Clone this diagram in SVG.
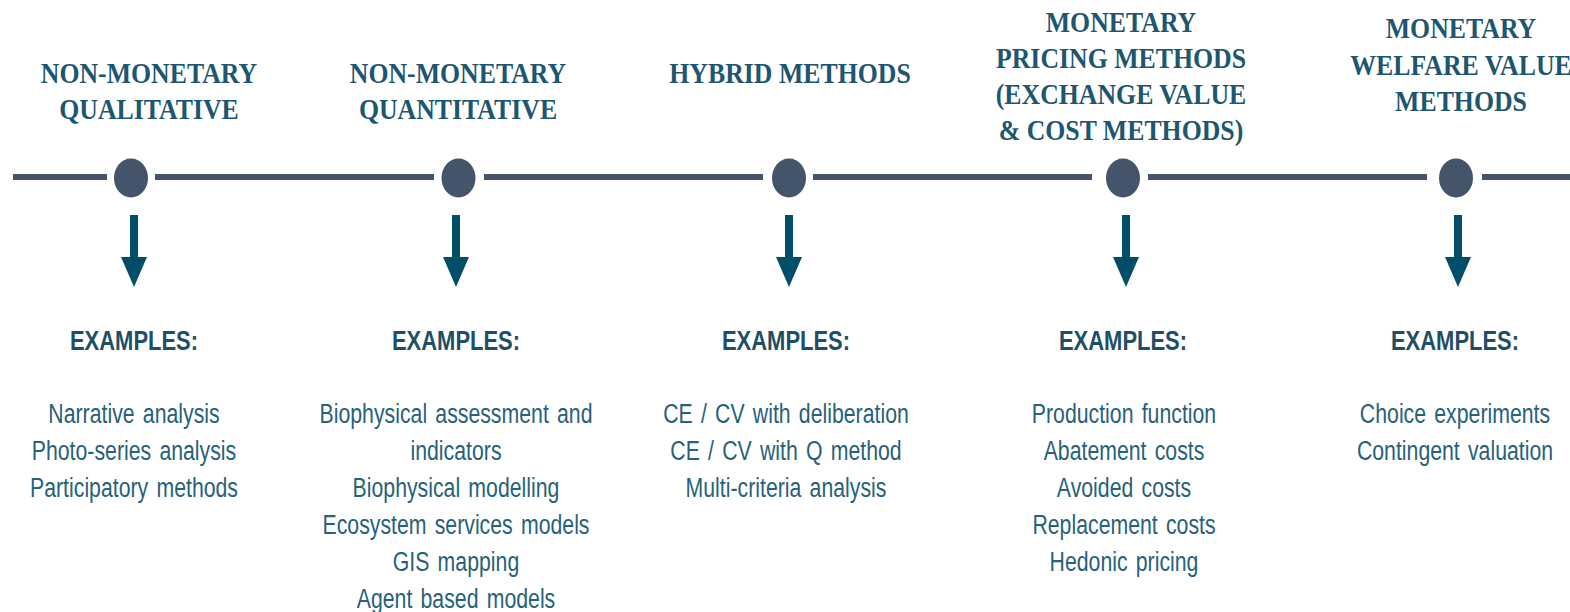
<svg xmlns="http://www.w3.org/2000/svg" width="1570" height="612" viewBox="0 0 1570 612">
<defs>
<style>
.hd{font-family:"Liberation Serif","Times New Roman",serif;font-weight:bold;font-size:30px;fill:#1D5670;text-anchor:middle}
.ex{font-family:"Liberation Sans",Arial,sans-serif;font-weight:bold;font-size:28px;fill:#1E4F66;text-anchor:middle}
.bd{font-family:"Liberation Sans",Arial,sans-serif;font-size:28px;fill:#27627A;text-anchor:middle;word-spacing:3px}
.tl{stroke:#44546A;stroke-width:6;fill:none}
.dot{fill:#44546A}
.arr{fill:#004E68}
</style>
<path id="arrowShape" d="M-4 0 H4 V42 H13 L0 72 L-13 42 H-4 Z"/>
</defs>
<rect width="1570" height="612" fill="#FFFFFF"/>
<g id="connectors">
<path class="tl" d="M13 177 H107 M155 177 H434 M484 177 H763 M813 177 H1092 M1148 177 H1427 M1482 177 H1570"/>
<use href="#arrowShape" class="arr" transform="translate(134 215)"/>
<use href="#arrowShape" class="arr" transform="translate(456 215)"/>
<use href="#arrowShape" class="arr" transform="translate(789 215)"/>
<use href="#arrowShape" class="arr" transform="translate(1126 215)"/>
<use href="#arrowShape" class="arr" transform="translate(1458 215)"/>
</g>
<g id="node-nonmonetary-qualitative">
<g transform="translate(149 0) scale(0.86 1)">
<text class="hd" x="0" y="83">NON-MONETARY</text>
<text class="hd" x="0" y="119">QUALITATIVE</text>
</g>
<ellipse class="dot" cx="131" cy="178" rx="17" ry="19.5"/>
<g transform="translate(134 0) scale(0.785 1)">
<text class="ex" x="0" y="350">EXAMPLES:</text>
</g>
<g transform="translate(134 0) scale(0.76 1)">
<text class="bd" x="0" y="423">Narrative analysis</text>
<text class="bd" x="0" y="460">Photo-series analysis</text>
<text class="bd" x="0" y="497">Participatory methods</text>
</g>
</g>
<g id="node-nonmonetary-quantitative">
<g transform="translate(458 0) scale(0.86 1)">
<text class="hd" x="0" y="83">NON-MONETARY</text>
<text class="hd" x="0" y="119">QUANTITATIVE</text>
</g>
<ellipse class="dot" cx="458.5" cy="178" rx="17" ry="19.5"/>
<g transform="translate(456 0) scale(0.785 1)">
<text class="ex" x="0" y="350">EXAMPLES:</text>
</g>
<g transform="translate(456 0) scale(0.76 1)">
<text class="bd" x="0" y="423">Biophysical assessment and</text>
<text class="bd" x="0" y="460">indicators</text>
<text class="bd" x="0" y="497">Biophysical modelling</text>
<text class="bd" x="0" y="534">Ecosystem services models</text>
<text class="bd" x="0" y="571">GIS mapping</text>
<text class="bd" x="0" y="608">Agent based models</text>
</g>
</g>
<g id="node-hybrid">
<g transform="translate(790 0) scale(0.86 1)">
<text class="hd" x="0" y="83">HYBRID METHODS</text>
</g>
<ellipse class="dot" cx="789" cy="178" rx="17" ry="19.5"/>
<g transform="translate(786 0) scale(0.785 1)">
<text class="ex" x="0" y="350">EXAMPLES:</text>
</g>
<g transform="translate(786 0) scale(0.76 1)">
<text class="bd" x="0" y="423">CE / CV with deliberation</text>
<text class="bd" x="0" y="460">CE / CV with Q method</text>
<text class="bd" x="0" y="497">Multi-criteria analysis</text>
</g>
</g>
<g id="node-monetary-pricing">
<g transform="translate(1121 0) scale(0.86 1)">
<text class="hd" x="0" y="32">MONETARY</text>
<text class="hd" x="0" y="68">PRICING METHODS</text>
<text class="hd" x="0" y="104">(EXCHANGE VALUE</text>
<text class="hd" x="0" y="140">&amp; COST METHODS)</text>
</g>
<ellipse class="dot" cx="1123" cy="178" rx="17" ry="19.5"/>
<g transform="translate(1123 0) scale(0.785 1)">
<text class="ex" x="0" y="350">EXAMPLES:</text>
</g>
<g transform="translate(1124 0) scale(0.76 1)">
<text class="bd" x="0" y="423">Production function</text>
<text class="bd" x="0" y="460">Abatement costs</text>
<text class="bd" x="0" y="497">Avoided costs</text>
<text class="bd" x="0" y="534">Replacement costs</text>
<text class="bd" x="0" y="571">Hedonic pricing</text>
</g>
</g>
<g id="node-monetary-welfare">
<g transform="translate(1461 0) scale(0.86 1)">
<text class="hd" x="0" y="38">MONETARY</text>
<text class="hd" x="0" y="75">WELFARE VALUE</text>
<text class="hd" x="0" y="111">METHODS</text>
</g>
<ellipse class="dot" cx="1456" cy="178" rx="17" ry="19.5"/>
<g transform="translate(1455 0) scale(0.785 1)">
<text class="ex" x="0" y="350">EXAMPLES:</text>
</g>
<g transform="translate(1455 0) scale(0.76 1)">
<text class="bd" x="0" y="423">Choice experiments</text>
<text class="bd" x="0" y="460">Contingent valuation</text>
</g>
</g>
</svg>
